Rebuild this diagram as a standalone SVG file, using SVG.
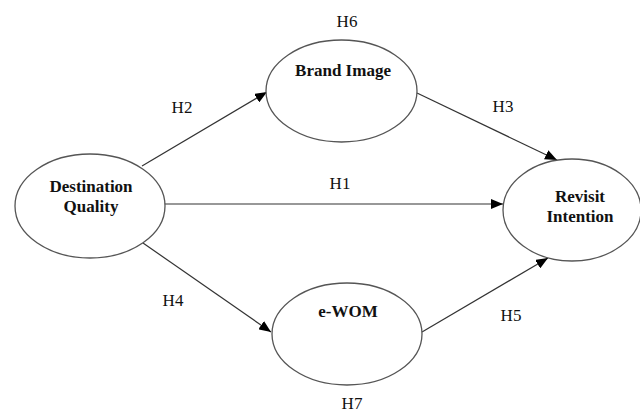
<svg xmlns="http://www.w3.org/2000/svg" width="640" height="414" viewBox="0 0 640 414">
<style>
.node{fill:#fff;stroke:#555;stroke-width:1.3}
.nt{font-family:"Liberation Serif","Times New Roman",serif;font-size:17px;font-weight:bold;fill:#111;text-anchor:middle}
.lb{font-family:"Liberation Serif","Times New Roman",serif;font-size:17px;fill:#111;text-anchor:middle}
.edge{stroke:#333;stroke-width:1.2;fill:none}
</style>
<defs>
<marker id="ah" markerUnits="userSpaceOnUse" markerWidth="12" markerHeight="10" refX="12" refY="5" orient="auto">
<path d="M0,0 L12,5 L0,10 Z" fill="#000"/>
</marker>
</defs>
<rect width="640" height="414" fill="#fff"/>
<g id="connectors">
<line class="edge" x1="142" y1="166" x2="267" y2="92" marker-end="url(#ah)"/>
<line class="edge" x1="417" y1="93" x2="557" y2="160" marker-end="url(#ah)"/>
<line class="edge" x1="164" y1="204" x2="503" y2="204" marker-end="url(#ah)"/>
<line class="edge" x1="143" y1="243" x2="271" y2="332" marker-end="url(#ah)"/>
<line class="edge" x1="422" y1="332" x2="548" y2="258" marker-end="url(#ah)"/>
<text class="lb" x="182" y="113">H2</text>
<text class="lb" x="503" y="112">H3</text>
<text class="lb" x="340" y="189">H1</text>
<text class="lb" x="173" y="306">H4</text>
<text class="lb" x="511" y="321">H5</text>
</g>
<g id="destination-quality">
<ellipse class="node" cx="90" cy="206" rx="75" ry="52"/>
<text class="nt" x="91" y="192">Destination</text>
<text class="nt" x="91" y="212">Quality</text>
</g>
<g id="brand-image">
<ellipse class="node" cx="341.5" cy="91" rx="75.5" ry="51"/>
<text class="nt" x="343" y="76">Brand Image</text>
<text class="lb" x="347" y="27">H6</text>
</g>
<g id="revisit-intention">
<ellipse class="node" cx="572" cy="210" rx="69" ry="51"/>
<text class="nt" x="580" y="202">Revisit</text>
<text class="nt" x="580" y="222">Intention</text>
</g>
<g id="e-wom">
<ellipse class="node" cx="347" cy="334" rx="75" ry="51"/>
<text class="nt" x="348" y="317">e-WOM</text>
<text class="lb" x="352" y="409">H7</text>
</g>
</svg>
